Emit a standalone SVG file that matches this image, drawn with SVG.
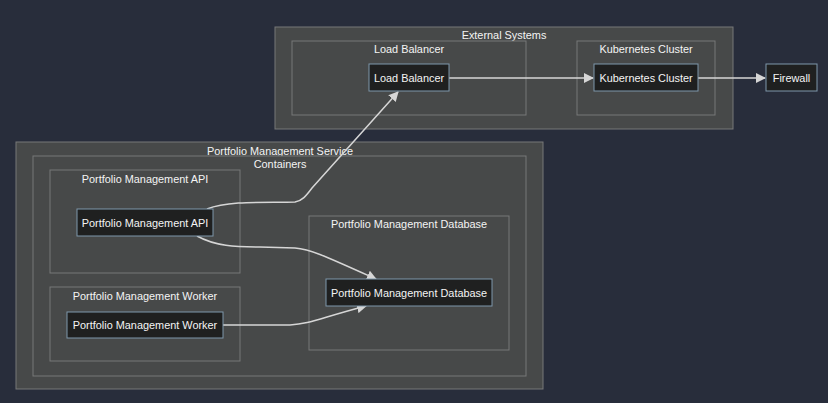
<svg xmlns="http://www.w3.org/2000/svg" width="828" height="403" viewBox="0 0 828 403">
<style>
.bg{fill:#282d3b}
.cl{fill:#474949;stroke:#777878;stroke-width:1}
.nd{fill:#1f2020;stroke:#7f97ab;stroke-width:1}
text{font-family:"Liberation Sans",Arial,sans-serif;font-size:10.9px;fill:#f4f4f4;text-anchor:middle;dominant-baseline:central}
.ed{fill:none;stroke:#d6d6d6;stroke-width:1.5}
</style>
<defs>
<marker id="ah" viewBox="0 0 10 10" refX="9" refY="5" markerWidth="10" markerHeight="10" markerUnits="userSpaceOnUse" orient="auto">
<path d="M0,0 L10,5 L0,10 z" fill="#d6d6d6"/>
</marker>
</defs>
<rect class="bg" x="0" y="0" width="828" height="403"/>
<g id="cluster-external">
<rect class="cl" x="275" y="27" width="458" height="102"/>
<text x="504" y="35">External Systems</text>
</g>
<g id="cluster-lb">
<rect class="cl" x="292" y="41" width="234" height="74"/>
<text x="409" y="49">Load Balancer</text>
</g>
<g id="cluster-k8s">
<rect class="cl" x="577" y="41" width="138" height="74"/>
<text x="646" y="49">Kubernetes Cluster</text>
</g>
<g id="cluster-service">
<rect class="cl" x="16" y="142" width="527" height="247"/>
<text x="280" y="151">Portfolio Management Service</text>
</g>
<g id="cluster-containers">
<rect class="cl" x="33" y="156" width="493" height="220"/>
<text x="280" y="164">Containers</text>
</g>
<g id="cluster-api">
<rect class="cl" x="50" y="170" width="190" height="103"/>
<text x="145" y="179">Portfolio Management API</text>
</g>
<g id="cluster-worker">
<rect class="cl" x="50" y="287" width="190" height="74"/>
<text x="145" y="296">Portfolio Management Worker</text>
</g>
<g id="cluster-db">
<rect class="cl" x="309" y="216" width="200" height="134"/>
<text x="409" y="224">Portfolio Management Database</text>
</g>
<g id="edges">
<path class="ed" d="M449,78 L593,78" marker-end="url(#ah)"/>
<path class="ed" d="M698,78 L765,78" marker-end="url(#ah)"/>
<path class="ed" d="M207,209 C230,200 270,203 295,202 C302,201 306,196 312,188 L398,92" marker-end="url(#ah)"/>
<path class="ed" d="M197,236 C215,246 235,247 260,247 L295,248 C310,249 325,256 376,279" marker-end="url(#ah)"/>
<path class="ed" d="M223,325 L290,325 C310,324 320,318 366,306" marker-end="url(#ah)"/>
</g>
<g id="node-lb">
<rect class="nd" x="369" y="64" width="80" height="27"/>
<text x="409" y="78">Load Balancer</text>
</g>
<g id="node-k8s">
<rect class="nd" x="594" y="64" width="104" height="27"/>
<text x="646" y="78">Kubernetes Cluster</text>
</g>
<g id="node-firewall">
<rect class="nd" x="766" y="64" width="51" height="27"/>
<text x="791.5" y="78">Firewall</text>
</g>
<g id="node-api">
<rect class="nd" x="77" y="209" width="136" height="27"/>
<text x="145" y="222.5">Portfolio Management API</text>
</g>
<g id="node-worker">
<rect class="nd" x="67" y="312" width="156" height="26"/>
<text x="145" y="325">Portfolio Management Worker</text>
</g>
<g id="node-db">
<rect class="nd" x="326" y="279" width="166" height="27"/>
<text x="409" y="292.5">Portfolio Management Database</text>
</g>
</svg>
